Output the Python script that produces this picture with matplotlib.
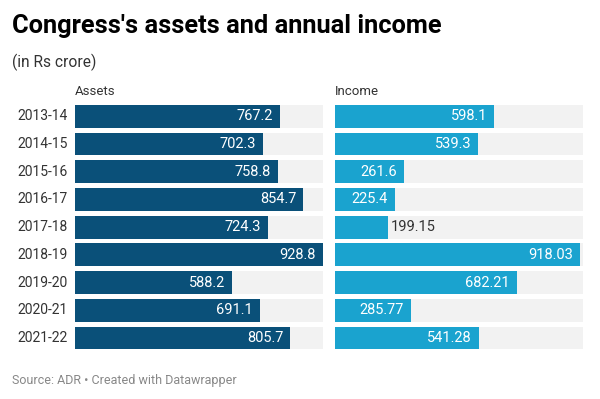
import matplotlib.pyplot as plt

plt.rcParams['font.family'] = ['Roboto', 'DejaVu Sans']

years = ['2013-14', '2014-15', '2015-16', '2016-17', '2017-18',
         '2018-19', '2019-20', '2020-21', '2021-22']
assets = [767.2, 702.3, 758.8, 854.7, 724.3, 928.8, 588.2, 691.1, 805.7]
income = [598.1, 539.3, 261.6, 225.4, 199.15, 918.03, 682.21, 285.77, 541.28]

W, H = 600, 399
fig = plt.figure(figsize=(W / 100, H / 100), dpi=100)
fig.patch.set_facecolor('white')

# shared scale for both columns
xmax = max(max(assets), max(income))
row_top, row_h = 102.5, 27.7
n = len(years)


def px_axes(left, top, width, height):
    return fig.add_axes([left / W, 1 - (top + height) / H, width / W, height / H])


def draw_col(left, values, color, header):
    ax = px_axes(left, row_top, 248, row_h * n)
    ys = range(n)
    ax.barh(ys, [xmax] * n, height=0.82, color='#f2f2f2', zorder=1)
    ax.barh(ys, values, height=0.82, color=color, zorder=2)
    ax.set_xlim(0, xmax)
    ax.set_ylim(n - 0.5, -0.5)
    ax.axis('off')
    for y, v in zip(ys, values):
        lab = f'{v:g}'
        if v > 215:
            ax.annotate(lab, (v, y), xytext=(-5, 0), textcoords='offset points',
                        ha='right', va='center', color='white', fontsize=10.5, zorder=3)
        else:
            ax.annotate(lab, (v, y), xytext=(2.5, 0), textcoords='offset points',
                        ha='left', va='center', color='#333333', fontsize=10.5, zorder=3)
    fig.text(left / W, 1 - 95 / H, header, fontsize=9.5, color='#333333',
             ha='left', va='baseline')
    return ax


ax1 = draw_col(75, assets, '#0a5079', 'Assets')
ax2 = draw_col(334.5, income, '#1aa3cf', 'Income')

for y, lab in enumerate(years):
    ax1.annotate(lab, (0, y), xytext=(-5, 0), textcoords='offset points',
                 ha='right', va='center', color='#333333', fontsize=10,
                 annotation_clip=False)

fig.text(12.5 / W, 1 - 33.3 / H, "Congress's assets and annual income",
         fontsize=18.3, fontweight='bold', color='#000000', ha='left', va='baseline')
fig.text(12.5 / W, 1 - 67 / H, '(in Rs crore)', fontsize=11.2, color='#333333',
         ha='left', va='baseline')
fig.text(12.5 / W, 1 - 384 / H, 'Source: ADR \u2022 Created with Datawrapper',
         fontsize=9, color='#888888', ha='left', va='baseline')

fig.savefig('out.png', dpi=100)
